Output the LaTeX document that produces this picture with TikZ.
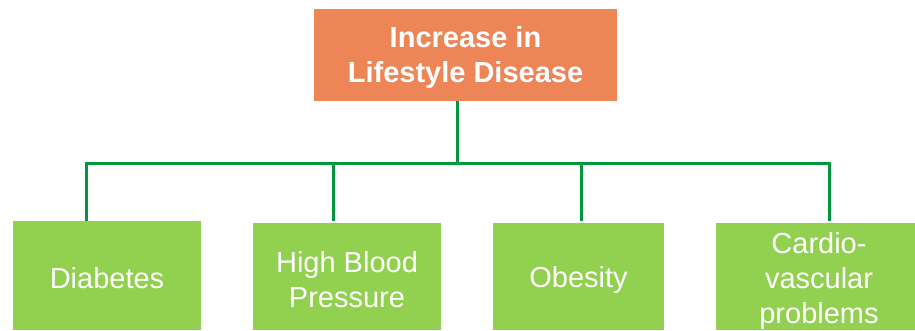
\documentclass[tikz,border=0pt]{standalone}
\usepackage{fontspec}
\setmainfont{Liberation Sans}
\definecolor{topc}{HTML}{ED8557}
\definecolor{boxc}{HTML}{92D050}
\definecolor{linec}{HTML}{00973B}
\begin{document}
\begin{tikzpicture}[x=1pt,y=-1pt,
  topbox/.style={fill=topc,text=white,font=\fontsize{29}{35}\selectfont\bfseries,align=center,inner sep=0pt},
  leaf/.style={fill=boxc,text=white,font=\fontsize{29}{35}\selectfont,align=center,inner sep=0pt},
  conn/.style={draw=linec,line width=3pt,line join=miter}]
\useasboundingbox (0,0) rectangle (915,330);
\fill[topc] (314,9) rectangle (617,101);
\node[topbox] (top) at (465.5,57) {Increase in\\Lifestyle Disease};
\coordinate (topS) at (457,101);
\fill[boxc] (13,221) rectangle (201,330);
\fill[boxc] (253,223) rectangle (441,330);
\fill[boxc] (493,223) rectangle (664,330);
\fill[boxc] (716,223) rectangle (915,330);
\node[leaf] (d1) at (107,278) {Diabetes};
\node[leaf] (d2) at (347,280) {High Blood\\Pressure};
\node[leaf] (d3) at (578.5,280) {Obesity};
\node[leaf] (d4) at (819,281) {Cardio-\\vascular\\problems};
\coordinate (b1) at (86,163);
\coordinate (b2) at (333,163);
\coordinate (b3) at (581,163);
\coordinate (b4) at (829,163);
\coordinate (e1) at (86,221);
\coordinate (e2) at (333,221);
\coordinate (e3) at (581,221);
\coordinate (e4) at (829,221);
\draw[conn] (e1) -- (b1) -- (b4) -- (e4);
\draw[conn] (topS) -- (topS |- b1);
\draw[conn] (b2) -- (e2);
\draw[conn] (b3) -- (e3);
\end{tikzpicture}
\end{document}
